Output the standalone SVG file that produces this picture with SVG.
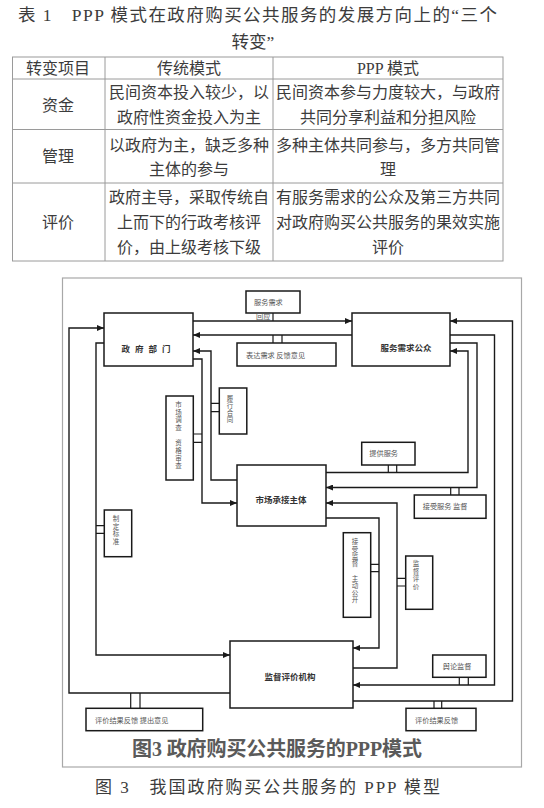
<svg xmlns="http://www.w3.org/2000/svg" width="544" height="808" viewBox="0 0 544 808">
<style>
.t{font-family:"Liberation Serif","Noto Sans CJK SC",serif;fill:#3c3c3c}
.tc{font-family:"Liberation Serif","Noto Sans CJK SC",serif;fill:#3c3c3c;font-size:16px;text-anchor:middle}
.grid{stroke:#9a9a9a;stroke-width:1;fill:none}
.box{fill:#fff;stroke:#1a1a1a;stroke-width:1.5}
.ln{fill:none;stroke:#1a1a1a;stroke-width:1.4}
.stub{stroke:#1a1a1a;stroke-width:1.2}
.big{font-family:"Noto Sans CJK SC",sans-serif;font-size:8.5px;font-weight:bold;fill:#333;text-anchor:middle}
.sm{font-family:"Noto Sans CJK SC",sans-serif;font-size:7.2px;fill:#555}
.vt{font-family:"Noto Sans CJK SC",sans-serif;font-size:6.5px;fill:#555;writing-mode:vertical-rl}
</style>
<defs>
<marker id="ar" markerWidth="7" markerHeight="6" refX="7" refY="3" orient="auto" markerUnits="userSpaceOnUse">
<path d="M0,0 L7,3 L0,6 Z" fill="#1a1a1a"/>
</marker>
</defs>
<rect width="544" height="808" fill="#fff"/>

<g id="table">
<text class="t" x="18" y="21" font-size="17.5" textLength="479" lengthAdjust="spacing">表 1　PPP 模式在政府购买公共服务的发展方向上的“三个</text>
<text class="t" x="253" y="48" font-size="17.5" text-anchor="middle">转变”</text>
<rect class="grid" x="12.5" y="57" width="490.5" height="204"/>
<line class="grid" x1="12.5" y1="79" x2="503" y2="79"/>
<line class="grid" x1="12.5" y1="129.5" x2="503" y2="129.5"/>
<line class="grid" x1="12.5" y1="183" x2="503" y2="183"/>
<line class="grid" x1="105" y1="57" x2="105" y2="261"/>
<line class="grid" x1="273" y1="57" x2="273" y2="261"/>
<text class="tc" x="58" y="73.5">转变项目</text>
<text class="tc" x="189" y="73.5">传统模式</text>
<text class="tc" x="388" y="73.5">PPP 模式</text>
<text class="tc" x="58" y="110.5">资金</text>
<text class="tc" x="189" y="98">民间资本投入较少，以</text>
<text class="tc" x="189" y="123">政府性资金投入为主</text>
<text class="tc" x="388" y="98">民间资本参与力度较大，与政府</text>
<text class="tc" x="388" y="123">共同分享利益和分担风险</text>
<text class="tc" x="58" y="162">管理</text>
<text class="tc" x="189" y="150.5">以政府为主，缺乏多种</text>
<text class="tc" x="189" y="175">主体的参与</text>
<text class="tc" x="388" y="150.5">多种主体共同参与，多方共同管</text>
<text class="tc" x="388" y="175">理</text>
<text class="tc" x="58" y="227.5">评价</text>
<text class="tc" x="189" y="203">政府主导，采取传统自</text>
<text class="tc" x="189" y="228">上而下的行政考核评</text>
<text class="tc" x="189" y="253">价，由上级考核下级</text>
<text class="tc" x="388" y="203">有服务需求的公众及第三方共同</text>
<text class="tc" x="388" y="228">对政府购买公共服务的果效实施</text>
<text class="tc" x="388" y="253">评价</text>
</g>

<rect x="62.5" y="278" width="459" height="489" fill="none" stroke="#a8a8a8" stroke-width="1.2"/>

<g id="connectors">
<path class="ln" d="M193,321 H352" marker-end="url(#ar)"/>
<path class="ln" d="M352,335 H193" marker-end="url(#ar)"/>
<path class="ln" d="M193,359 H202 V503 H237" marker-end="url(#ar)"/>
<path class="ln" d="M237,480 H211 V351 H193" marker-end="url(#ar)"/>
<path class="ln" d="M326,472.5 H468 V351 H450" marker-end="url(#ar)"/>
<path class="ln" d="M450,343 H477 V487.5 H326" marker-end="url(#ar)"/>
<path class="ln" d="M353,668 H397 V503 H326" marker-end="url(#ar)"/>
<path class="ln" d="M326,518 H379 V648 H353" marker-end="url(#ar)"/>
<path class="ln" d="M450,335 H494.5 V685 H353" marker-end="url(#ar)"/>
<path class="ln" d="M353,701 H512.5 V321 H450" marker-end="url(#ar)"/>
<path class="ln" d="M104,343 H96 V655 H230" marker-end="url(#ar)"/>
<path class="ln" d="M230,693 H69 V328 H104" marker-end="url(#ar)"/>
<path class="stub" d="M273,313 V321"/>
<path class="stub" d="M273,335 V343 M282,335 V343"/>
<path class="stub" d="M211,403.3 H219.3 M211,411.7 H219.3"/>
<path class="stub" d="M202,434 H193.3 M202,442.3 H193.3"/>
<path class="stub" d="M96,525.7 H104.3 M96,533.3 H104.3"/>
<path class="stub" d="M388.3,465 V472.5 M396.7,465 V472.5"/>
<path class="stub" d="M450.7,487.5 V495 M459,487.5 V495"/>
<path class="stub" d="M370.7,564.3 H379 M370.7,571.7 H379"/>
<path class="stub" d="M397,578.3 H405.7 M397,586 H405.7"/>
<path class="stub" d="M459.3,677.3 V685 M468.3,677.3 V685"/>
<path class="stub" d="M434,701 V708.3 M441.7,701 V708.3"/>
<path class="stub" d="M130.7,693 V708.3 M140,693 V708.3"/>
</g>

<g id="gov">
<rect class="box" x="104" y="313" width="89" height="53"/>
<text class="big" x="148.5" y="352" letter-spacing="5">政府部门</text>
</g>
<g id="public">
<rect class="box" x="352" y="313" width="98" height="53"/>
<text class="big" x="406" y="351">服务需求公众</text>
</g>
<g id="market">
<rect class="box" x="237" y="465" width="89" height="61"/>
<text class="big" x="281" y="503">市场承接主体</text>
</g>
<g id="supervise">
<rect class="box" x="230" y="641" width="123" height="67"/>
<text class="big" x="290" y="680">监督评价机构</text>
</g>

<g id="demand">
<rect class="box" x="246" y="291" width="54" height="22"/>
<text class="sm" x="254" y="304.5">服务需求</text>
<text class="sm" x="256" y="319" font-size="7">回应</text>
</g>
<g id="express">
<rect class="box" x="237" y="343" width="99" height="23"/>
<text class="sm" x="246" y="357.5">表达需求 反馈意见</text>
</g>
<g id="contract">
<rect class="box" x="219.3" y="388" width="27.5" height="46"/>
<text class="vt" x="230" y="395.5" letter-spacing="0.5">履行合同</text>
</g>
<g id="survey">
<rect class="box" x="166" y="396" width="27.3" height="84"/>
<text class="vt" x="178.5" y="401.3" font-size="7" letter-spacing="1.15">市场调查　资格审查</text>
</g>
<g id="standard">
<rect class="box" x="104.3" y="510" width="27.4" height="46.7"/>
<text class="vt" x="116" y="515.5" letter-spacing="1">制定标准</text>
</g>
<g id="provide">
<rect class="box" x="361.7" y="442.3" width="53.3" height="22.7"/>
<text class="sm" x="369.3" y="456">提供服务</text>
</g>
<g id="accept">
<rect class="box" x="414.3" y="495" width="71.7" height="23.3"/>
<text class="sm" x="422.7" y="509">接受服务 监督</text>
</g>
<g id="disclose">
<rect class="box" x="343.3" y="532.7" width="27.4" height="84.6"/>
<text class="vt" x="355" y="538.6" font-size="6.3" letter-spacing="0.75">接受监督　主动公开</text>
</g>
<g id="evaluate">
<rect class="box" x="405.7" y="556" width="27" height="53.3"/>
<text class="vt" x="416" y="560.5" letter-spacing="1">监督评价</text>
</g>
<g id="opinion">
<rect class="box" x="432.7" y="655" width="53.3" height="22.3"/>
<text class="sm" x="442.7" y="668.5">舆论监督</text>
</g>
<g id="feedback-r">
<rect class="box" x="406" y="708.3" width="70" height="22.4"/>
<text class="sm" x="415" y="722.5">评价结果反馈</text>
</g>
<g id="feedback-l">
<rect class="box" x="86" y="708.3" width="116.7" height="22.4"/>
<text class="sm" x="95" y="722.5">评价结果反馈 提出意见</text>
</g>

<text x="132" y="756" font-family="Liberation Serif,Noto Sans CJK SC,serif" font-size="20" font-weight="bold" fill="#5a5a5a" textLength="290" lengthAdjust="spacing">图3 政府购买公共服务的PPP模式</text>
<text class="t" x="95" y="793" font-size="17" textLength="345" lengthAdjust="spacing">图 3　我国政府购买公共服务的 PPP 模型</text>
</svg>
